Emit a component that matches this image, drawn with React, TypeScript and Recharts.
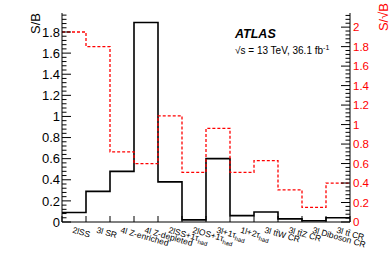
import React from "react";
import { LineChart, Line, XAxis, YAxis } from "recharts";

// signal regions / control regions, one bin each
const regionNames = [
  "2lSS",
  "3l SR",
  "4l Z-enriched",
  "4l Z-depleted",
  "2lSS+1τ",
  "2lOS+1τ",
  "3l+1τ",
  "1l+2τ",
  "3l tt\u0304W CR",
  "3l tt\u0304Z CR",
  "3l Diboson CR",
  "3l tt\u0304 CR",
];
const regionSubs = ["", "", "", "", "had", "had", "had", "had", "", "", "", ""];

const sOverB = [0.09, 0.29, 0.48, 1.89, 0.38, 0.02, 0.6, 0.06, 0.095, 0.03, 0.012, 0.04];
const sOverSqrtB = [1.95, 1.8, 0.72, 0.6, 1.09, 0.51, 0.96, 0.51, 0.63, 0.33, 0.15, 0.4];

const leftMajor = [0, 0.2, 0.4, 0.6, 0.8, 1, 1.2, 1.4, 1.6, 1.8];
const rightMajor = [0, 0.2, 0.4, 0.6, 0.8, 1, 1.2, 1.4, 1.6, 1.8, 2];

const FONT = "'Liberation Sans', Arial, Helvetica, sans-serif";
const RED = "#ff0000";

// step histogram rows: one row per bin edge, last edge repeats last bin
const rows = regionNames.map((_, i) => ({ x: i, sb: sOverB[i], ssb: sOverSqrtB[i] }));
rows.push({ x: regionNames.length, sb: sOverB[sOverB.length - 1], ssb: sOverSqrtB[sOverSqrtB.length - 1] });

const edgeTicks = regionNames.map((_, i) => i).concat([regionNames.length]);
const bottomTicks = edgeTicks.concat(regionNames.map((_, i) => i + 0.5));

function withMinor(major: number[], max: number) {
  const out: number[] = [];
  for (let i = 0; i * 0.04 <= max + 1e-9; i++) out.push(Math.round(i * 0.04 * 100) / 100);
  return out;
}
const isMajor = (v: number) => Math.abs(v * 5 - Math.round(v * 5)) < 1e-6;
const fmt = (v: number) => (Number.isInteger(v) ? String(v) : v.toFixed(1));

function LeftTick(props: any) {
  const { x, y, payload } = props;
  const v = payload.value as number;
  const major = isMajor(v);
  return (
    <g>
      <line x1={x} x2={x + (major ? 9 : 4.5)} y1={y} y2={y} stroke="#000" />
      {major && (
        <text x={x - 2} y={y} dy="0.36em" textAnchor="end" fontSize={13} fontFamily={FONT} fill="#000">
          {fmt(v)}
        </text>
      )}
    </g>
  );
}

function RightTick(props: any) {
  const { x, y, payload } = props;
  const v = payload.value as number;
  const major = isMajor(v);
  return (
    <g>
      <line x1={x} x2={x - (major ? 9 : 4.5)} y1={y} y2={y} stroke="#000" />
      {major && (
        <text x={x + 3} y={y} dy="0.36em" textAnchor="start" fontSize={11.5} fontFamily={FONT} fill={RED}>
          {fmt(v)}
        </text>
      )}
    </g>
  );
}

function TopTick(props: any) {
  const { x, y } = props;
  return <line x1={x} x2={x} y1={y} y2={y + 6} stroke="#000" />;
}

function BottomTick(props: any) {
  const { x, y, payload } = props;
  const v = payload.value as number;
  if (Number.isInteger(v)) return <line x1={x} x2={x} y1={y} y2={y - 6} stroke="#000" />;
  const i = Math.floor(v);
  return (
    <text
      transform={`translate(${x - 2},${y + 10.5}) rotate(16)`}
      fontSize={8.5}
      fontFamily={FONT}
      fill="#000"
    >
      {regionNames[i]}
      {regionSubs[i] && (
        <tspan dy={2.5} fontSize={6}>
          {regionSubs[i]}
        </tspan>
      )}
    </text>
  );
}

export default function App() {
  return (
    <div style={{ position: "absolute", left: 0, top: 0, width: 390, height: 265, background: "#fff" }}>
      <LineChart width={390} height={265} data={rows} margin={{ top: 13, right: 0, bottom: 0, left: 0 }}>
        <XAxis
          xAxisId="bottom"
          type="number"
          dataKey="x"
          domain={[0, regionNames.length]}
          ticks={bottomTicks}
          interval={0}
          height={43}
          tickSize={0}
          tickMargin={0}
          tickLine={false}
          axisLine={{ stroke: "#000" }}
          tick={BottomTick}
        />
        <XAxis
          xAxisId="top"
          orientation="top"
          type="number"
          dataKey="x"
          domain={[0, regionNames.length]}
          ticks={edgeTicks}
          interval={0}
          height={0}
          tickSize={0}
          tickMargin={0}
          tickLine={false}
          axisLine={{ stroke: "#000" }}
          tick={TopTick}
        />
        <YAxis
          yAxisId="sb"
          type="number"
          domain={[0, 1.98]}
          allowDataOverflow
          ticks={withMinor(leftMajor, 1.98)}
          interval={0}
          width={62}
          tickSize={0}
          tickMargin={0}
          tickLine={false}
          axisLine={{ stroke: "#000" }}
          tick={LeftTick}
        />
        <YAxis
          yAxisId="ssb"
          orientation="right"
          type="number"
          domain={[0, 2.145]}
          allowDataOverflow
          ticks={withMinor(rightMajor, 2.145)}
          interval={0}
          width={40}
          tickSize={0}
          tickMargin={0}
          tickLine={false}
          axisLine={{ stroke: "#000" }}
          tick={RightTick}
        />
        <Line
          xAxisId="bottom"
          yAxisId="sb"
          dataKey="sb"
          type="stepAfter"
          stroke="#000"
          strokeWidth={1.6}
          dot={false}
          activeDot={false}
          isAnimationActive={false}
        />
        <Line
          xAxisId="bottom"
          yAxisId="ssb"
          dataKey="ssb"
          type="stepAfter"
          stroke={RED}
          strokeWidth={1.3}
          strokeDasharray="3 2"
          dot={false}
          activeDot={false}
          isAnimationActive={false}
        />
      </LineChart>
      <svg
        width={390}
        height={265}
        style={{ position: "absolute", left: 0, top: 0, pointerEvents: "none" }}
        fontFamily={FONT}
      >
        <text transform="translate(40,13) rotate(-90)" textAnchor="end" fontSize={13} fill="#000">
          S/B
        </text>
        <text transform="translate(388,3) rotate(-90)" textAnchor="end" fontSize={13} fill={RED}>
          S/√B
        </text>
        <text x={235} y={38} fontSize={12.5} fontWeight="bold" fontStyle="italic" fill="#000">
          ATLAS
        </text>
        <text x={235} y={54} fontSize={10} fill="#000">
          √s = 13 TeV, 36.1 fb
          <tspan dy={-4} fontSize={7}>
            -1
          </tspan>
        </text>
      </svg>
    </div>
  );
}
